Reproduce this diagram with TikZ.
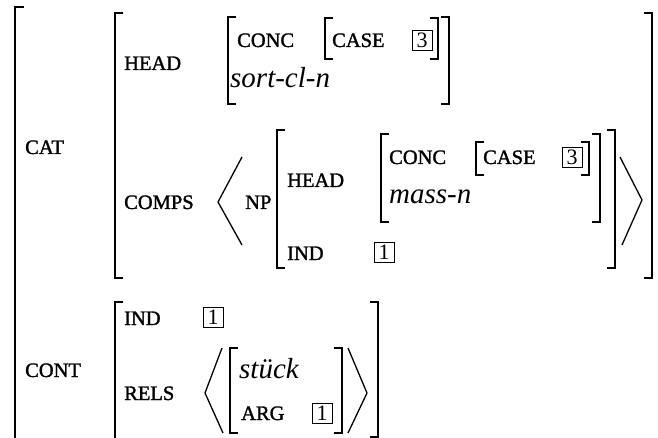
\documentclass[tikz,border=0pt]{standalone}
\usepackage{fontspec}
\setmainfont{Liberation Serif}
\newfontfamily\labfont[FakeBold=1.5]{Liberation Serif}
\begin{document}
\begin{tikzpicture}[x=1pt,y=-1pt,
  brk/.style={line width=1.5pt, line cap=butt, line join=miter},
  ang/.style={line width=1.3pt, line join=miter},
  lab/.style={font=\labfont\fontsize{20.5}{20.5}\selectfont, anchor=base west, inner sep=0pt},
  typ/.style={font=\fontsize{29}{29}\selectfont\itshape, anchor=base west, inner sep=0pt},
  tag/.style={draw, line width=0.7pt, minimum width=20pt, minimum height=20pt, inner sep=0pt,
              font=\fontsize{22}{22}\selectfont}]
\useasboundingbox (0,0) rectangle (658,438);
% bracket helpers
\newcommand\LB[3]{\draw[brk] ({#1+8},#2) -- (#1,#2) -- (#1,#3) -- ({#1+8},#3);}
\newcommand\RB[3]{\draw[brk] ({#1-8},#2) -- (#1,#2) -- (#1,#3) -- ({#1-8},#3);}
% outer
\draw[brk] (24,7) -- (15,7) -- (15,440);
% CAT
\node[lab] (cat) at (25,154) {CAT};
\LB{115}{13}{278}
\RB{652}{13}{278}
\node[lab] (head) at (124,70) {HEAD};
\LB{228}{17}{104}
\RB{449}{17}{104}
\node[lab] (conc) at (237,47) {CONC};
\LB{325}{18}{59}
\RB{438}{18}{59}
\node[lab] (case) at (332,47) {CASE};
\node[tag] (t3a) at (422,40) {3};
\node[typ] (sort) at (230,88) {sort-cl-n};
\node[lab] (comps) at (124,209) {COMPS};
\draw[ang] (242,157) -- (218,202) -- (242,245);
\node[lab] (np) at (245,209) {NP};
\LB{277}{130}{268}
\RB{615}{130}{268}
\node[lab] (head2) at (287,187) {HEAD};
\LB{381}{134}{222}
\RB{600}{134}{222}
\node[lab] (conc2) at (389,164) {CONC};
\LB{476}{142}{175}
\RB{589}{142}{175}
\node[lab] (case2) at (483,164) {CASE};
\node[tag] (t3b) at (572,157) {3};
\node[typ] (mass) at (389,204) {mass-n};
\node[lab] (ind2) at (287,260) {IND};
\node[tag] (t1a) at (384,252) {1};
\draw[ang] (620,157) -- (642,200) -- (622,245);
% CONT
\node[lab] (cont) at (25,377) {CONT};
\LB{115}{302}{440}
\RB{378}{302}{437}
\node[lab] (ind) at (124,325) {IND};
\node[tag] (t1b) at (213,317) {1};
\node[lab] (rels) at (124,400) {RELS};
\draw[ang] (222,348) -- (205,393) -- (223,433);
\LB{230}{348}{433}
\RB{342}{348}{433}
\node[typ] (stueck) at (239,378) {stück};
\node[lab] (arg) at (241,420) {ARG};
\node[tag] (t1c) at (322,413) {1};
\draw[ang] (348,348) -- (367,393) -- (348,433);
\end{tikzpicture}
\end{document}
